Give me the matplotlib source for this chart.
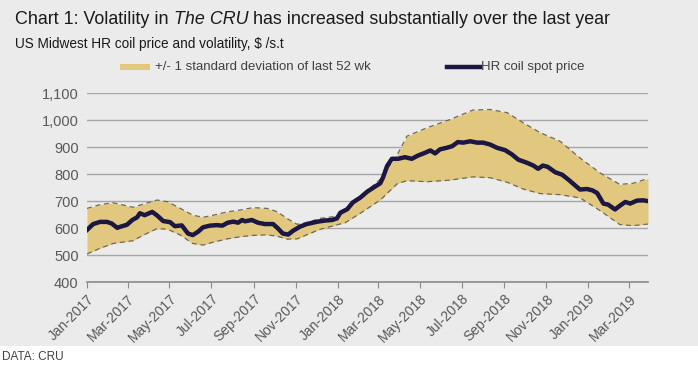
import matplotlib
matplotlib.use("Agg")
import matplotlib.pyplot as plt
from matplotlib.patches import Rectangle
from matplotlib.lines import Line2D
import pandas as pd

plt.rcParams["font.family"] = ["Liberation Sans", "DejaVu Sans"]

start = pd.Timestamp("2017-01-01")

# HR coil spot price, $/s.t (x = days after 1 Jan 2017)
price_days = [0, 9, 19, 29, 36, 44, 51, 58, 66, 73, 77, 84, 95, 102, 111, 121, 128, 138,
              147, 154, 162, 169, 179, 189, 197, 205, 213, 220, 226, 230, 240, 249, 259,
              271, 278, 285, 293, 300, 310, 320, 329, 336, 347, 357, 364, 369, 379, 387,
              398, 408, 417, 427, 431, 437, 444, 453, 463, 473, 482, 492, 500, 507, 514,
              524, 532, 540, 548, 558, 568, 577, 587, 597, 609, 619, 628, 641, 650, 657,
              664, 671, 682, 692, 701, 711, 718, 728, 736, 743, 752, 759, 769, 776, 784,
              791, 801, 810, 817]
price = [593, 615, 623, 623, 617, 601, 607, 612, 630, 640, 655, 648, 660, 647, 626, 622,
         607, 610, 580, 574, 587, 603, 609, 611, 609, 620, 624, 620, 630, 625, 630, 620,
         615, 615, 599, 580, 576, 590, 605, 615, 620, 624, 628, 630, 636, 657, 670, 695,
         713, 735, 750, 766, 787, 830, 857, 857, 863, 857, 869, 879, 888, 877, 892, 898,
         904, 919, 917, 922, 917, 917, 910, 898, 889, 873, 854, 842, 832, 820, 832, 827,
         807, 798, 780, 758, 743, 745, 740, 730, 691, 687, 669, 683, 697, 691, 702, 703,
         700]

# +/- 1 standard deviation of last 52 weeks
band_days = [0, 19, 38, 52, 67, 82, 102, 117, 136, 154, 169, 184, 204, 223, 242, 262,
             277, 291, 306, 320, 339, 358, 376, 398, 427, 452, 466, 495, 529, 562, 587,
             612, 635, 660, 689, 718, 747, 776, 795, 817]
band_upper = [673, 687, 694, 686, 677, 689, 704, 698, 673, 648, 640, 648, 660, 667, 676,
              673, 661, 636, 614, 620, 636, 642, 660, 715, 781, 873, 941, 972, 1003, 1038,
              1040, 1028, 991, 954, 922, 860, 805, 762, 766, 784]
band_lower = [504, 525, 543, 548, 553, 574, 598, 596, 574, 543, 537, 548, 560, 568, 573,
              575, 570, 559, 560, 575, 595, 608, 620, 655, 704, 765, 776, 772, 778, 790,
              787, 770, 745, 728, 724, 712, 665, 613, 609, 615]

tick_labels = ["Jan-2017", "Mar-2017", "May-2017", "Jul-2017", "Sep-2017", "Nov-2017",
               "Jan-2018", "Mar-2018", "May-2018", "Jul-2018", "Sep-2018", "Nov-2018",
               "Jan-2019", "Mar-2019"]

price_x = start + pd.to_timedelta(price_days, unit="D")
band_x = start + pd.to_timedelta(band_days, unit="D")

fig = plt.figure(figsize=(6.98, 3.67), dpi=100, facecolor="white")
fig.patches.append(Rectangle((0, 21 / 367), 1, 1, transform=fig.transFigure,
                             facecolor="#ebebeb", edgecolor="none", zorder=-10))

ax = fig.add_axes([87 / 698, 1 - 282 / 367, (648 - 87) / 698, (282 - 93.3) / 367])
ax.set_facecolor("none")

ax.fill_between(band_x, band_lower, band_upper, color="#e2c87f", linewidth=0, zorder=2)
ax.plot(band_x, band_upper, color="#6f6858", lw=0.9, ls=(0, (4, 3)), zorder=3)
ax.plot(band_x, band_lower, color="#6f6858", lw=0.9, ls=(0, (4, 3)), zorder=3)
ax.plot(price_x, price, color="#1b1642", lw=3.2, solid_joinstyle="round", zorder=4)

ax.set_ylim(400, 1100)
ax.set_xlim(start, start + pd.Timedelta(days=817))
ax.set_yticks(range(400, 1101, 100))
ax.yaxis.set_major_formatter(matplotlib.ticker.FuncFormatter(lambda v, p: f"{int(v):,}"))
ax.grid(axis="y", color="#a6a6a6", lw=1.0, zorder=1)
ax.set_axisbelow(True)
for s in ["top", "right", "left"]:
    ax.spines[s].set_visible(False)
ax.spines["bottom"].set_color("#8c8c8c")
ax.spines["bottom"].set_linewidth(1.2)

ticks = pd.date_range("2017-01-01", "2019-03-01", freq="2MS")
ax.set_xticks(ticks)
ax.set_xticklabels(tick_labels, rotation=45, ha="right", rotation_mode="anchor")
ax.tick_params(axis="x", length=4, color="#8c8c8c", labelsize=10, labelcolor="#595959", pad=3)
ax.tick_params(axis="y", length=0, labelsize=10.5, labelcolor="#595959", pad=6)

# title with italic part
renderer = fig.canvas.get_renderer()
x0 = 15 / 698
ty = 1 - 20 / 367
parts = [("Chart 1: Volatility in ", "normal"), ("The CRU", "italic"),
         (" has increased substantially over the last year", "normal")]
for txt, style in parts:
    t = fig.text(x0, ty, txt, fontsize=12.9, style=style, color="#1a1a1a", va="center")
    bb = t.get_window_extent(renderer)
    x0 += bb.width / fig.bbox.width

fig.text(15 / 698, 1 - 44 / 367, "US Midwest HR coil price and volatility, $ /s.t",
         fontsize=9.8, color="#1a1a1a", va="center")

# legend
ly = 1 - 67 / 367
fig.patches.append(Rectangle((120 / 698, ly - 3 / 367), 30 / 698, 6 / 367,
                             transform=fig.transFigure, facecolor="#e2c87f",
                             edgecolor="none"))
fig.text(155 / 698, ly, "+/- 1 standard deviation of last 52 wk", fontsize=9.5,
         color="#404040", va="center")
fig.lines.append(Line2D([447 / 698, 480 / 698], [ly, ly], transform=fig.transFigure,
                        color="#1b1642", lw=3.2))
fig.text(481 / 698, ly, "HR coil spot price", fontsize=9.5, color="#404040", va="center")

fig.text(2 / 698, 1 - 357 / 367, "DATA: CRU", fontsize=8.5, color="#404040", va="center")

fig.savefig("out.png", dpi=100, facecolor="white")
